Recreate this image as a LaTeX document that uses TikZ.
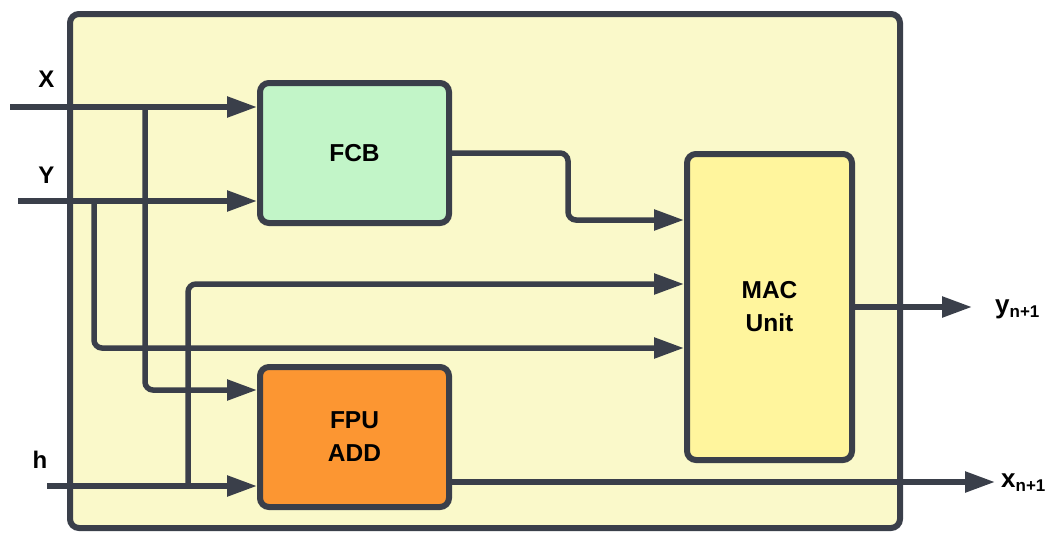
\documentclass[tikz,border=0pt]{standalone}
\usepackage{fontspec}
\setmainfont{Liberation Sans}
\usetikzlibrary{arrows.meta}
\definecolor{ink}{RGB}{58,63,74}
\definecolor{chipbg}{RGB}{250,249,202}
\definecolor{fcbgreen}{RGB}{194,245,200}
\definecolor{fpuorange}{RGB}{252,150,50}
\definecolor{macyellow}{RGB}{255,245,157}
\begin{document}
\begin{tikzpicture}[x=1pt,y=-1pt,
  wire/.style={draw=ink, line width=5.5pt, rounded corners=8pt},
  feed/.style={wire, -{Triangle[length=30pt,width=20pt]}},
  block/.style={draw=ink, line width=6pt, rounded corners=9pt, align=center, inner sep=0pt,
    font=\fontsize{24.5}{33}\selectfont\bfseries},
  tag/.style={font=\fontsize{24}{28}\selectfont\bfseries, text=black, inner sep=0pt},
  outtag/.style={tag, anchor=base west, font=\fontsize{26}{28}\selectfont\bfseries}]
\useasboundingbox (0,0) rectangle (1057,533);

% enclosing unit
\node[block, fill=chipbg, minimum width=830pt, minimum height=514pt] (chip) at (485,271) {};

% functional blocks
\node[block, fill=fcbgreen, minimum width=189pt, minimum height=140pt] (fcb) at (354.5,153) {FCB};
\node[block, fill=fpuorange, minimum width=189pt, minimum height=140pt] (fpu) at (354.5,437) {FPU\\ADD};
\node[block, fill=macyellow, minimum width=165pt, minimum height=306pt] (mac) at (769.5,307) {MAC\\Unit};

% wire end points and taps
\coordinate (xin) at (10,107);
\coordinate (yin) at (18,201);
\coordinate (hin) at (47,486);
\coordinate (xtap) at (145,107);
\coordinate (ytap) at (94,201);
\coordinate (htap) at (188,486);
\coordinate (xlane) at (0,390);
\coordinate (ylane) at (0,348);
\coordinate (hlane) at (0,284);
\coordinate (fbend) at (568,220);
\coordinate (yout) at (972,307);
\coordinate (xout) at (995,482);

% inputs
\draw[feed] (xin) -- (xin -| fcb.west);
\draw[feed] (yin) -- (yin -| fcb.west);
\draw[feed] (hin) -- (hin -| fpu.west);

% branches
\draw[feed] (xtap) |- (xlane -| fpu.west);
\draw[feed] (ytap) |- (ylane -| mac.west);
\draw[feed] (htap) |- (hlane -| mac.west);
\draw[feed] (fcb.east) -| (fbend) -- (fbend -| mac.west);

% outputs
\draw[feed] (mac.east) -- (yout);
\draw[feed] (fpu.east |- xout) -- (xout);

% signal labels
\node[tag, anchor=base] (xlabel) at (46.5,87) {X};
\node[tag, anchor=base] (ylabel) at (46.5,183) {Y};
\node[tag, anchor=base] (hlabel) at (40,468) {h};
\node[outtag] (ynext) at (995,313)
  {y\raisebox{-4pt}{\fontsize{17}{17}\selectfont n+1}};
\node[outtag] (xnext) at (1001,487)
  {x\raisebox{-4pt}{\fontsize{17}{17}\selectfont n+1}};
\end{tikzpicture}
\end{document}
